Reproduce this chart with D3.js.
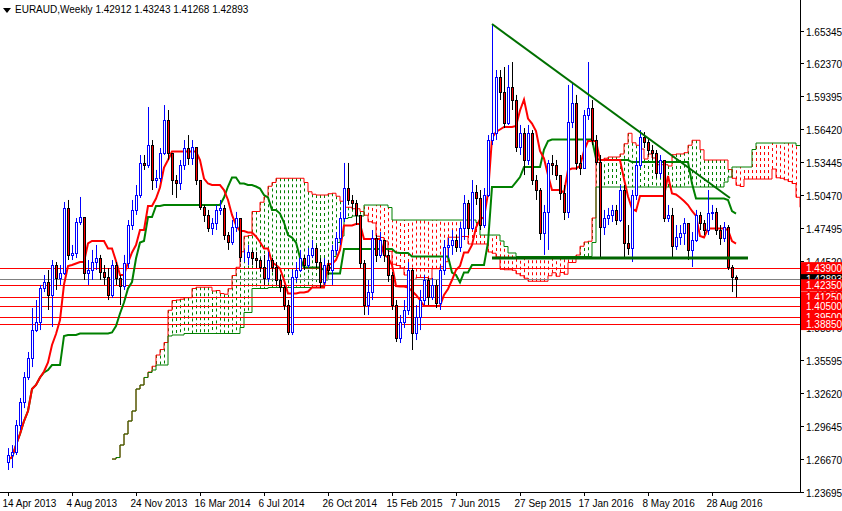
<!DOCTYPE html>
<html><head><meta charset="utf-8">
<script src="https://cdn.jsdelivr.net/npm/d3@7"></script>
<style>body{margin:0;background:#fff}svg{display:block}text{font-family:"Liberation Sans",Arial,sans-serif}</style>
</head><body><svg id="c" width="842" height="511"></svg>
<script>
const firstOpen = 1.2640;
const closes = [1.2703,1.2730,1.2974,1.3182,1.3407,1.3579,1.3831,1.3904,1.4211,1.4265,1.4147,1.4418,1.4301,1.4346,1.4933,1.4509,1.4527,1.4806,1.4851,1.4346,1.4373,1.4445,1.4481,1.4355,1.4310,1.4147,1.4418,1.4301,1.4229,1.4436,1.4779,1.4915,1.5050,1.5339,1.5321,1.5501,1.5185,1.5203,1.5429,1.5727,1.5429,1.5185,1.5158,1.5321,1.5474,1.5384,1.5483,1.5185,1.4942,1.4870,1.4752,1.4797,1.4915,1.4933,1.4689,1.4626,1.4761,1.4842,1.4490,1.4490,1.4536,1.4481,1.4463,1.4400,1.4301,1.4463,1.4400,1.4283,1.4220,1.4057,1.3813,1.4310,1.4373,1.4481,1.4418,1.4509,1.4572,1.4445,1.4265,1.4418,1.4373,1.4554,1.4662,1.4842,1.5113,1.5005,1.4978,1.4870,1.4436,1.4057,1.4174,1.4662,1.4509,1.4644,1.4509,1.4328,1.4057,1.3759,1.3904,1.4012,1.4373,1.3804,1.3949,1.4102,1.4283,1.4129,1.4238,1.4075,1.4373,1.4581,1.4599,1.4644,1.4581,1.4752,1.4978,1.4752,1.5077,1.5023,1.4779,1.5050,1.5546,1.5609,1.6115,1.5980,1.5699,1.6025,1.5907,1.5483,1.5609,1.5366,1.5609,1.5185,1.5095,1.4707,1.4897,1.5339,1.5321,1.5230,1.5068,1.4897,1.5708,1.5880,1.5339,1.5294,1.5772,1.5835,1.5546,1.5348,1.4761,1.4842,1.4870,1.4915,1.4824,1.5095,1.4617,1.4572,1.5050,1.5321,1.5573,1.5528,1.5456,1.5429,1.5249,1.5366,1.4842,1.4870,1.4590,1.4671,1.4707,1.4797,1.4554,1.4644,1.4870,1.4797,1.4734,1.4888,1.4897,1.4734,1.4662,1.4761,1.4400,1.4310,1.42893];
const highs = [1.2766,1.2793,1.3019,1.3218,1.3452,1.3633,1.4030,1.4102,1.4238,1.4328,1.4373,1.4463,1.4445,1.4418,1.4987,1.5005,1.4599,1.4842,1.5032,1.4806,1.4463,1.4554,1.4599,1.4509,1.4418,1.4391,1.4463,1.4445,1.4328,1.4509,1.4824,1.5005,1.5140,1.5411,1.5411,1.5844,1.5546,1.5276,1.5474,1.5862,1.5817,1.5411,1.5230,1.5366,1.5546,1.5591,1.5546,1.5456,1.5185,1.4960,1.4915,1.4842,1.4960,1.5005,1.4960,1.4716,1.4824,1.4897,1.4644,1.4554,1.4599,1.4554,1.4536,1.4481,1.4509,1.4536,1.4481,1.4445,1.4328,1.4238,1.4102,1.4373,1.4445,1.4554,1.4509,1.4572,1.4644,1.4599,1.4481,1.4481,1.4463,1.4599,1.4716,1.4897,1.5339,1.5339,1.5050,1.5005,1.4870,1.4463,1.4283,1.4734,1.4689,1.4716,1.4644,1.4554,1.4355,1.4102,1.3967,1.4102,1.4445,1.4391,1.4057,1.4193,1.4328,1.4301,1.4301,1.4283,1.4418,1.4644,1.4662,1.4734,1.4689,1.4806,1.5050,1.5005,1.5185,1.5140,1.5095,1.5113,1.5591,1.6593,1.6178,1.6178,1.6205,1.6223,1.6250,1.5953,1.5682,1.5654,1.5682,1.5636,1.5230,1.5113,1.4960,1.5366,1.5411,1.5366,1.5230,1.5140,1.6043,1.6070,1.5953,1.5411,1.5817,1.6250,1.5907,1.5591,1.5411,1.4915,1.4933,1.4960,1.4960,1.5140,1.5140,1.4779,1.5095,1.5366,1.5636,1.5618,1.5564,1.5501,1.5456,1.5411,1.5321,1.4960,1.4933,1.4779,1.4779,1.4842,1.4779,1.4716,1.4915,1.4897,1.4824,1.5095,1.4960,1.4933,1.4779,1.4806,1.4779,1.4418,1.43243];
const lows = [1.2568,1.2586,1.2703,1.2929,1.3127,1.3380,1.3497,1.3813,1.3831,1.4174,1.4012,1.3859,1.4193,1.4238,1.4328,1.4463,1.4463,1.4481,1.4779,1.4283,1.4238,1.4283,1.4373,1.4283,1.4238,1.4102,1.4120,1.4238,1.4057,1.4193,1.4391,1.4734,1.4870,1.5023,1.5276,1.5294,1.5095,1.5113,1.5167,1.5411,1.5366,1.5050,1.5023,1.5095,1.5276,1.5321,1.5321,1.5140,1.4915,1.4806,1.4716,1.4689,1.4734,1.4870,1.4644,1.4554,1.4599,1.4716,1.4445,1.4445,1.4418,1.4418,1.4391,1.4355,1.4238,1.4265,1.4355,1.4238,1.4174,1.4012,1.3786,1.3786,1.4265,1.4355,1.4373,1.4391,1.4481,1.4391,1.4211,1.4238,1.4328,1.4238,1.4509,1.4599,1.4806,1.4960,1.4915,1.4779,1.4391,1.3967,1.3967,1.4102,1.4445,1.4481,1.4445,1.4265,1.4012,1.3723,1.3714,1.3850,1.3967,1.3651,1.3741,1.3831,1.4057,1.4057,1.4102,1.4030,1.4012,1.4328,1.4481,1.4509,1.4536,1.4536,1.4644,1.4689,1.4734,1.4960,1.4734,1.4752,1.5032,1.5501,1.5546,1.5907,1.5654,1.5682,1.5817,1.5438,1.5411,1.5230,1.5321,1.5140,1.5005,1.4644,1.4509,1.4554,1.5230,1.5185,1.5005,1.4824,1.4842,1.5654,1.5276,1.5230,1.5294,1.5727,1.5501,1.5321,1.4481,1.4689,1.4779,1.4806,1.4779,1.4806,1.4481,1.4509,1.4445,1.5005,1.5294,1.5474,1.5411,1.5366,1.5203,1.5203,1.4806,1.4806,1.4490,1.4554,1.4599,1.4599,1.4463,1.4400,1.4626,1.4734,1.4689,1.4689,1.4824,1.4689,1.4599,1.4626,1.4373,1.4174,1.41268];
const dateLabels = ["14 Apr 2013","4 Aug 2013","24 Nov 2013","16 Mar 2014","6 Jul 2014","26 Oct 2014","15 Feb 2015","7 Jun 2015","27 Sep 2015","17 Jan 2016","8 May 2016","28 Aug 2016"];
const priceTicks = [1.65345,1.62370,1.59395,1.56420,1.53445,1.50470,1.47495,1.44520,1.41545,1.38570,1.35595,1.32620,1.29645,1.26670,1.23695];
const levels = [1.43900,1.42350,1.41250,1.40500,1.39500,1.38850];
const current = 1.42893;
const trendStart = {i:121, p:1.6593}, trendEnd = {i:180.5, p:1.5023};
const neckline = {i0:121, i1:185, p:1.4481};
const title = "EURAUD,Weekly  1.42912 1.43243 1.41268 1.42893";

const svg = d3.select("#c");
const W=800, H=492;
const x = d3.scaleLinear().domain([0,1]).range([8,12]);
const y = d3.scaleLinear().domain([1.23695,1.65345]).range([492,30.5]);
const n = closes.length;
const bars = closes.map((c,i)=>({i,o:i?closes[i-1]:firstOpen,c,h:highs[i],l:lows[i]}));

function mid(a,b){const s=Math.max(0,a);let hi=-1e9,lo=1e9;for(let k=s;k<=b;k++){hi=Math.max(hi,highs[k]);lo=Math.min(lo,lows[k]);}return (hi+lo)/2;}
const tenkan = bars.map(b=>mid(b.i-8,b.i));
const kijun = bars.map(b=>mid(b.i-25,b.i));
const spanA=[],spanB=[];
for(let i=0;i<n;i++){spanA.push({i:i+26,v:(tenkan[i]+kijun[i])/2});spanB.push({i:i+26,v:mid(i-51,i)});}

const g = svg.append("g");
svg.append("defs").append("clipPath").attr("id","cp").append("rect").attr("width",W).attr("height",H);
const pg = g.append("g").attr("clip-path","url(#cp)");

spanA.forEach((a,k)=>{const b=spanB[k];
  pg.append("line").attr("x1",Math.round(x(a.i))+.5).attr("x2",Math.round(x(a.i))+.5).attr("y1",y(a.v)).attr("y2",y(b.v))
   .attr("stroke",a.v>=b.v?"#008000":"#ff0000").attr("stroke-width",1).attr("stroke-dasharray","3,3");});
const ln = d3.line().x(d=>x(d.i)).y(d=>y(d.v)).curve(d3.curveStepAfter);
pg.append("path").datum(spanA).attr("d",ln).attr("fill","none").attr("stroke","#ff0000").attr("stroke-width",1);
pg.append("path").datum(spanB).attr("d",ln).attr("fill","none").attr("stroke","#008000").attr("stroke-width",1);

levels.forEach(l=>pg.append("line").attr("x1",0).attr("x2",W).attr("y1",Math.round(y(l))+.5).attr("y2",Math.round(y(l))+.5).attr("stroke","#ff0000"));
pg.append("line").attr("x1",0).attr("x2",W).attr("y1",Math.round(y(current))+.5).attr("y2",Math.round(y(current))+.5).attr("stroke","#808080");

const l2 = d3.line().x(d=>x(d.i)).y(d=>y(d.v));
pg.append("path").datum(kijun.map((v,i)=>({i,v}))).attr("d",l2).attr("fill","none").attr("stroke","#008000").attr("stroke-width",2);
pg.append("path").datum(tenkan.map((v,i)=>({i,v}))).attr("d",l2).attr("fill","none").attr("stroke","#ff0000").attr("stroke-width",2);

bars.forEach(b=>{const up=b.c>=b.o;const cx=Math.round(x(b.i))+.5;
  pg.append("line").attr("x1",cx).attr("x2",cx).attr("y1",y(b.h)).attr("y2",y(b.l)).attr("stroke",up?"#0000ff":"#000");
  const t=Math.round(y(Math.max(b.o,b.c))),bt=Math.round(y(Math.min(b.o,b.c)));
  pg.append("rect").attr("x",cx-1).attr("y",t+.5).attr("width",2).attr("height",Math.max(0,bt-t))
   .attr("fill",up?"#fff":"#ff0000").attr("stroke",up?"#0000ff":"#000").attr("stroke-width",1);});

pg.append("line").attr("x1",x(trendStart.i)).attr("y1",y(trendStart.p)).attr("x2",x(trendEnd.i)).attr("y2",y(trendEnd.p)).attr("stroke","#007000").attr("stroke-width",2);
pg.append("line").attr("x1",x(neckline.i0)).attr("x2",x(neckline.i1)).attr("y1",y(neckline.p)).attr("y2",y(neckline.p)).attr("stroke","#006400").attr("stroke-width",3);

g.append("line").attr("x1",W+.5).attr("x2",W+.5).attr("y1",0).attr("y2",H+1).attr("stroke","#000");
g.append("line").attr("x1",0).attr("x2",W+1).attr("y1",H+.5).attr("y2",H+.5).attr("stroke","#000");
priceTicks.forEach(p=>{const yy=Math.round(y(p))+.5;
  g.append("line").attr("x1",W).attr("x2",W+4).attr("y1",yy).attr("y2",yy).attr("stroke","#000");
  g.append("text").attr("x",806).attr("y",yy+4).attr("font-size",10).attr("fill","#000").text(p.toFixed(5));});
dateLabels.forEach((d,k)=>{const xx=Math.round(x(16*k))+.5;
  g.append("line").attr("x1",xx).attr("x2",xx).attr("y1",H).attr("y2",H+4).attr("stroke","#000");
  g.append("text").attr("x",xx-6).attr("y",507).attr("font-size",10).text(d);});
function tag(p,bg){const yy=y(p);
  g.append("rect").attr("x",801).attr("y",yy-6).attr("width",41).attr("height",12).attr("fill",bg);
  g.append("text").attr("x",806).attr("y",yy+4).attr("font-size",10).attr("fill","#fff").text(p.toFixed(5));}
tag(current,"#000");
levels.forEach(l=>tag(l,"#ff0000"));
g.append("path").attr("d","M3,8 L11,8 L7,13 Z").attr("fill","#000");
g.append("text").attr("x",15).attr("y",13).attr("font-size",10).text(title);
</script></body></html>
